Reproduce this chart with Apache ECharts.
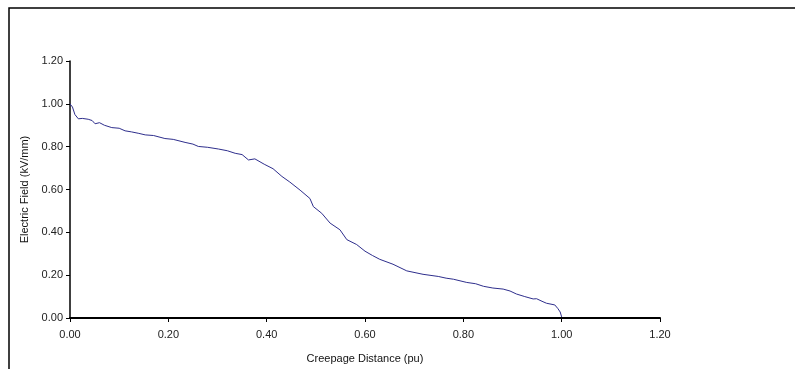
<!DOCTYPE html>
<html>
<head>
<meta charset="utf-8">
<script src="https://cdn.jsdelivr.net/npm/echarts@6/dist/echarts.min.js"></script>
<style>
  html, body { margin: 0; padding: 0; background: #fff; }
  #chartContainer { width: 795px; height: 369px; }
</style>
</head>
<body>
<div id="chartContainer"></div>
<script>
// values
var distance = [
  0.000, 0.005, 0.010, 0.017, 0.025, 0.037, 0.045, 0.051, 0.060, 0.070,
  0.085, 0.100, 0.112, 0.125, 0.140, 0.153, 0.170, 0.193, 0.210, 0.234,
  0.250, 0.261, 0.280, 0.302, 0.320, 0.336, 0.350, 0.363, 0.376, 0.380,
  0.395, 0.413, 0.431, 0.447, 0.468, 0.488, 0.495, 0.512, 0.529, 0.549,
  0.563, 0.583, 0.600, 0.615, 0.630, 0.657, 0.685, 0.718, 0.749, 0.765,
  0.780, 0.807, 0.825, 0.841, 0.860, 0.881, 0.895, 0.908, 0.925, 0.942,
  0.949, 0.960, 0.969, 0.986, 0.992, 0.997, 1.000
];
var field = [
  1.000, 0.985, 0.950, 0.930, 0.932, 0.928, 0.922, 0.907, 0.912, 0.900,
  0.889, 0.886, 0.874, 0.869, 0.862, 0.855, 0.852, 0.838, 0.834, 0.820,
  0.812, 0.801, 0.797, 0.789, 0.781, 0.769, 0.763, 0.738, 0.743, 0.735,
  0.718, 0.697, 0.661, 0.635, 0.597, 0.558, 0.520, 0.489, 0.443, 0.412,
  0.366, 0.343, 0.312, 0.292, 0.274, 0.251, 0.220, 0.204, 0.194, 0.186,
  0.181, 0.166, 0.160, 0.148, 0.140, 0.135, 0.126, 0.112, 0.100, 0.089,
  0.090, 0.078, 0.069, 0.061, 0.045, 0.028, 0.005
];
var xTicks = [0, 0.2, 0.4, 0.6, 0.8, 1.0, 1.2];
var yTicks = [0, 0.2, 0.4, 0.6, 0.8, 1.0, 1.2];

var points = distance.map(function (d, i) { return [d, field[i]]; });

var chart = echarts.init(document.getElementById('chartContainer'));

chart.setOption({
  animation: false,
  backgroundColor: '#fff',
  textStyle: { fontFamily: 'Liberation Sans, Arial, sans-serif' },
  grid: { left: 70, right: 135, top: 61, bottom: 48 },
  graphic: [{
    type: 'polyline',
    shape: { points: [[9, 369], [9, 8], [795, 8]] },
    style: { stroke: '#000', lineWidth: 1.5, fill: null }
  }],
  xAxis: {
    type: 'value',
    min: xTicks[0],
    max: xTicks[xTicks.length - 1],
    interval: 0.2,
    name: 'Creepage Distance (pu)',
    nameLocation: 'middle',
    nameGap: 35,
    nameTextStyle: { fontSize: 11, color: '#111' },
    axisLine: { lineStyle: { color: '#000', width: 2 } },
    axisTick: { length: 4, lineStyle: { color: '#000' } },
    axisLabel: {
      fontSize: 11, color: '#222', margin: 11,
      formatter: function (v) { return v.toFixed(2); }
    },
    splitLine: { show: false }
  },
  yAxis: {
    type: 'value',
    min: yTicks[0],
    max: yTicks[yTicks.length - 1],
    interval: 0.2,
    name: 'Electric Field (kV/mm)',
    nameLocation: 'middle',
    nameGap: 37,
    nameTextStyle: { fontSize: 11, color: '#111' },
    axisLine: { show: true, lineStyle: { color: '#000', width: 1.5 } },
    axisTick: { show: true, length: 4, lineStyle: { color: '#000' } },
    axisLabel: {
      fontSize: 11, color: '#222', margin: 7,
      formatter: function (v) { return v.toFixed(2); }
    },
    splitLine: { show: false }
  },
  series: [{
    name: 'Electric Field',
    type: 'line',
    data: points,
    showSymbol: false,
    lineStyle: { color: '#2e2e8c', width: 1 },
    z: 3
  }]
});
</script>
</body>
</html>
